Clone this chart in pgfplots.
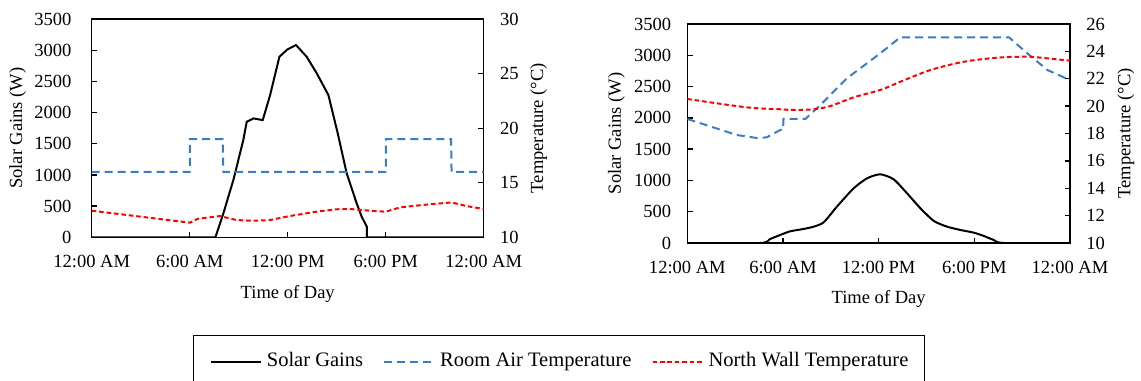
\documentclass[border=0pt]{standalone}
\usepackage{pgfplots}
\pgfplotsset{compat=1.18}
\usepackage{fontspec}
\setmainfont{Liberation Serif}
\definecolor{airblue}{RGB}{58,125,196}
\definecolor{wallred}{RGB}{255,0,0}

\pgfplotsset{
  base/.style={
    scale only axis,
    xmin=0, xmax=24,
    xtick={0,6,12,18,24},
    xticklabels={12:00 AM,6:00 AM,12:00 PM,6:00 PM,12:00 AM},
    tick align=inside,
    major tick length=4pt,
    axis line style={line width=1pt},
    every tick/.style={black, line width=1pt},
    tick label style={font=\fontsize{13.9}{16}\selectfont},
    label style={font=\fontsize{13.9}{16}\selectfont},
    /pgf/number format/assume math mode=true,
    /pgf/number format/1000 sep={},
    xticklabel style={anchor=base, yshift=-22.65pt},
  },
  leftax/.style={
    base,
    ymin=0, ymax=3500,
    ytick={0,500,...,3500},
    xtick pos=left,
    ytick pos=left,
    ylabel={Solar Gains (W)},
    xlabel={Time of Day},
    yticklabel style={anchor=east, inner sep=0pt},
  },
  rightax/.style={
    base,
    axis x line=none,
    axis y line*=right,
    ytick pos=right,
    ylabel={Temperature (°C)},
    yticklabel style={anchor=west, inner sep=0pt, xshift=12pt},
  },
  solar/.style={black, line width=1.5pt, solid},
  air/.style={airblue, line width=1.5pt, dash pattern=on 6pt off 3.75pt},
  wall/.style={wallred, line width=1.5pt, dash pattern=on 3.4pt off 2.2pt},
}

\begin{document}
\begin{tikzpicture}
\path[use as bounding box] (0,0) rectangle (855.75pt,-285.75pt);

% ---------------- Left chart ----------------
\begin{axis}[leftax,
  at={(68.8pt,-178pt)}, anchor=south west,
  width=294pt, height=163.7pt,
  yticklabel style={xshift=-15pt},
  ylabel style={at={(axis description cs:-0.1888,0.5)}, anchor=center},
  xlabel style={at={(axis description cs:0.5,-0.278)}, anchor=base},
]
\addplot[solar] coordinates {
(0,0) (7.57,0) (8.06,385) (8.67,918) (9.28,1560) (9.49,1853) (9.90,1907)
(10.47,1880) (10.92,2280) (11.49,2895) (11.98,3013) (12.51,3083) (13.16,2895)
(13.78,2629) (14.49,2281) (15.05,1680) (15.61,1026) (16.22,545) (16.53,330)
(16.84,170) (16.85,0) (24,0)
};
\end{axis}
\begin{axis}[rightax,
  at={(68.8pt,-178pt)}, anchor=south west,
  width=294pt, height=163.7pt,
  ymin=10, ymax=30, ytick={10,15,20,25,30},
  ylabel style={at={(axis description cs:1.140,0.5)}, anchor=center},
  legend columns=3,
  legend style={at={(axis description cs:0.2592,-0.4476)}, anchor=north west,
    draw=black, line width=0.75pt, inner xsep=12pt, inner ysep=12.75pt,
    font=\fontsize{15.4}{18}\selectfont,
    nodes={inner sep=0pt, text height=10.5pt, text depth=10pt},
    /tikz/every odd column/.style={column sep=3.75pt},
    /tikz/every even column/.style={column sep=15pt}},
  legend image code/.code={\draw[#1] (0pt,3.5pt) -- (37.5pt,3.5pt);},
]
\addlegendimage{solar}
\addlegendentry{Solar Gains}
\addplot[air] coordinates {
(0,16) (6,16) (6.01,19) (8.02,19) (8.06,16) (18,16) (18.01,19) (22,19) (22.03,16) (24,16)
};
\addlegendentry{Room Air Temperature}
\addplot[wall] coordinates {
(0,12.44) (6.02,11.34) (6.5,11.7) (7.86,11.95) (8.88,11.58) (9.9,11.52) (10.9,11.58)
(12.12,11.95) (13.76,12.35) (14.98,12.57) (15.8,12.6) (17.04,12.44) (18.0,12.35)
(18.9,12.75) (20.5,13.0) (22.03,13.2) (23,12.85) (24,12.6)
};
\addlegendentry{North Wall Temperature}
\end{axis}

% ---------------- Right chart ----------------
\begin{axis}[leftax,
  at={(515.5pt,-182.25pt)}, anchor=south west,
  width=287pt, height=164.25pt,
  yticklabel style={xshift=-12pt},
  ylabel style={at={(axis description cs:-0.1855,0.5)}, anchor=center},
  xlabel style={at={(axis description cs:0.5,-0.277)}, anchor=base},
]
\addplot[solar, smooth, tension=0.4] coordinates {
(0,0) (4.57,0) (5.19,64) (5.82,128) (6.45,187) (7.29,224) (7.92,261) (8.55,330)
(9.38,581) (10.43,874) (11.27,1034) (12.1,1098) (12.94,1018) (13.78,794)
(14.62,554) (15.46,352) (16.29,261) (17.13,208) (17.97,165) (18.6,112)
(19.22,48) (19.85,0) (24,0)
};
\end{axis}
\begin{axis}[rightax,
  at={(515.5pt,-182.25pt)}, anchor=south west,
  width=287pt, height=164.25pt,
  ymin=10, ymax=26, ytick={10,12,...,26},
  ylabel style={at={(axis description cs:1.146,0.5)}, anchor=center},
]
\addplot[air] coordinates {
(0,19.06) (3.1,17.89) (4.36,17.67) (4.98,17.72) (5.82,18.25) (6.0,18.3) (6.03,19.06)
(7.4,19.06) (8.34,20.08) (10.01,22.03) (12.1,23.86) (13.36,25.03) (20.17,25.03)
(21.32,23.86) (22.58,22.64) (24,21.9)
};
\addplot[wall, smooth] coordinates {
(0,20.52) (3.73,19.91) (5.82,19.77) (6.66,19.72) (7.91,19.77) (8.96,20.0)
(10.43,20.64) (12.1,21.18) (13.36,21.78) (15.25,22.64) (17.34,23.24) (19.43,23.54)
(21.32,23.61) (22.58,23.49) (24,23.32)
};
\end{axis}
\end{tikzpicture}
\end{document}
